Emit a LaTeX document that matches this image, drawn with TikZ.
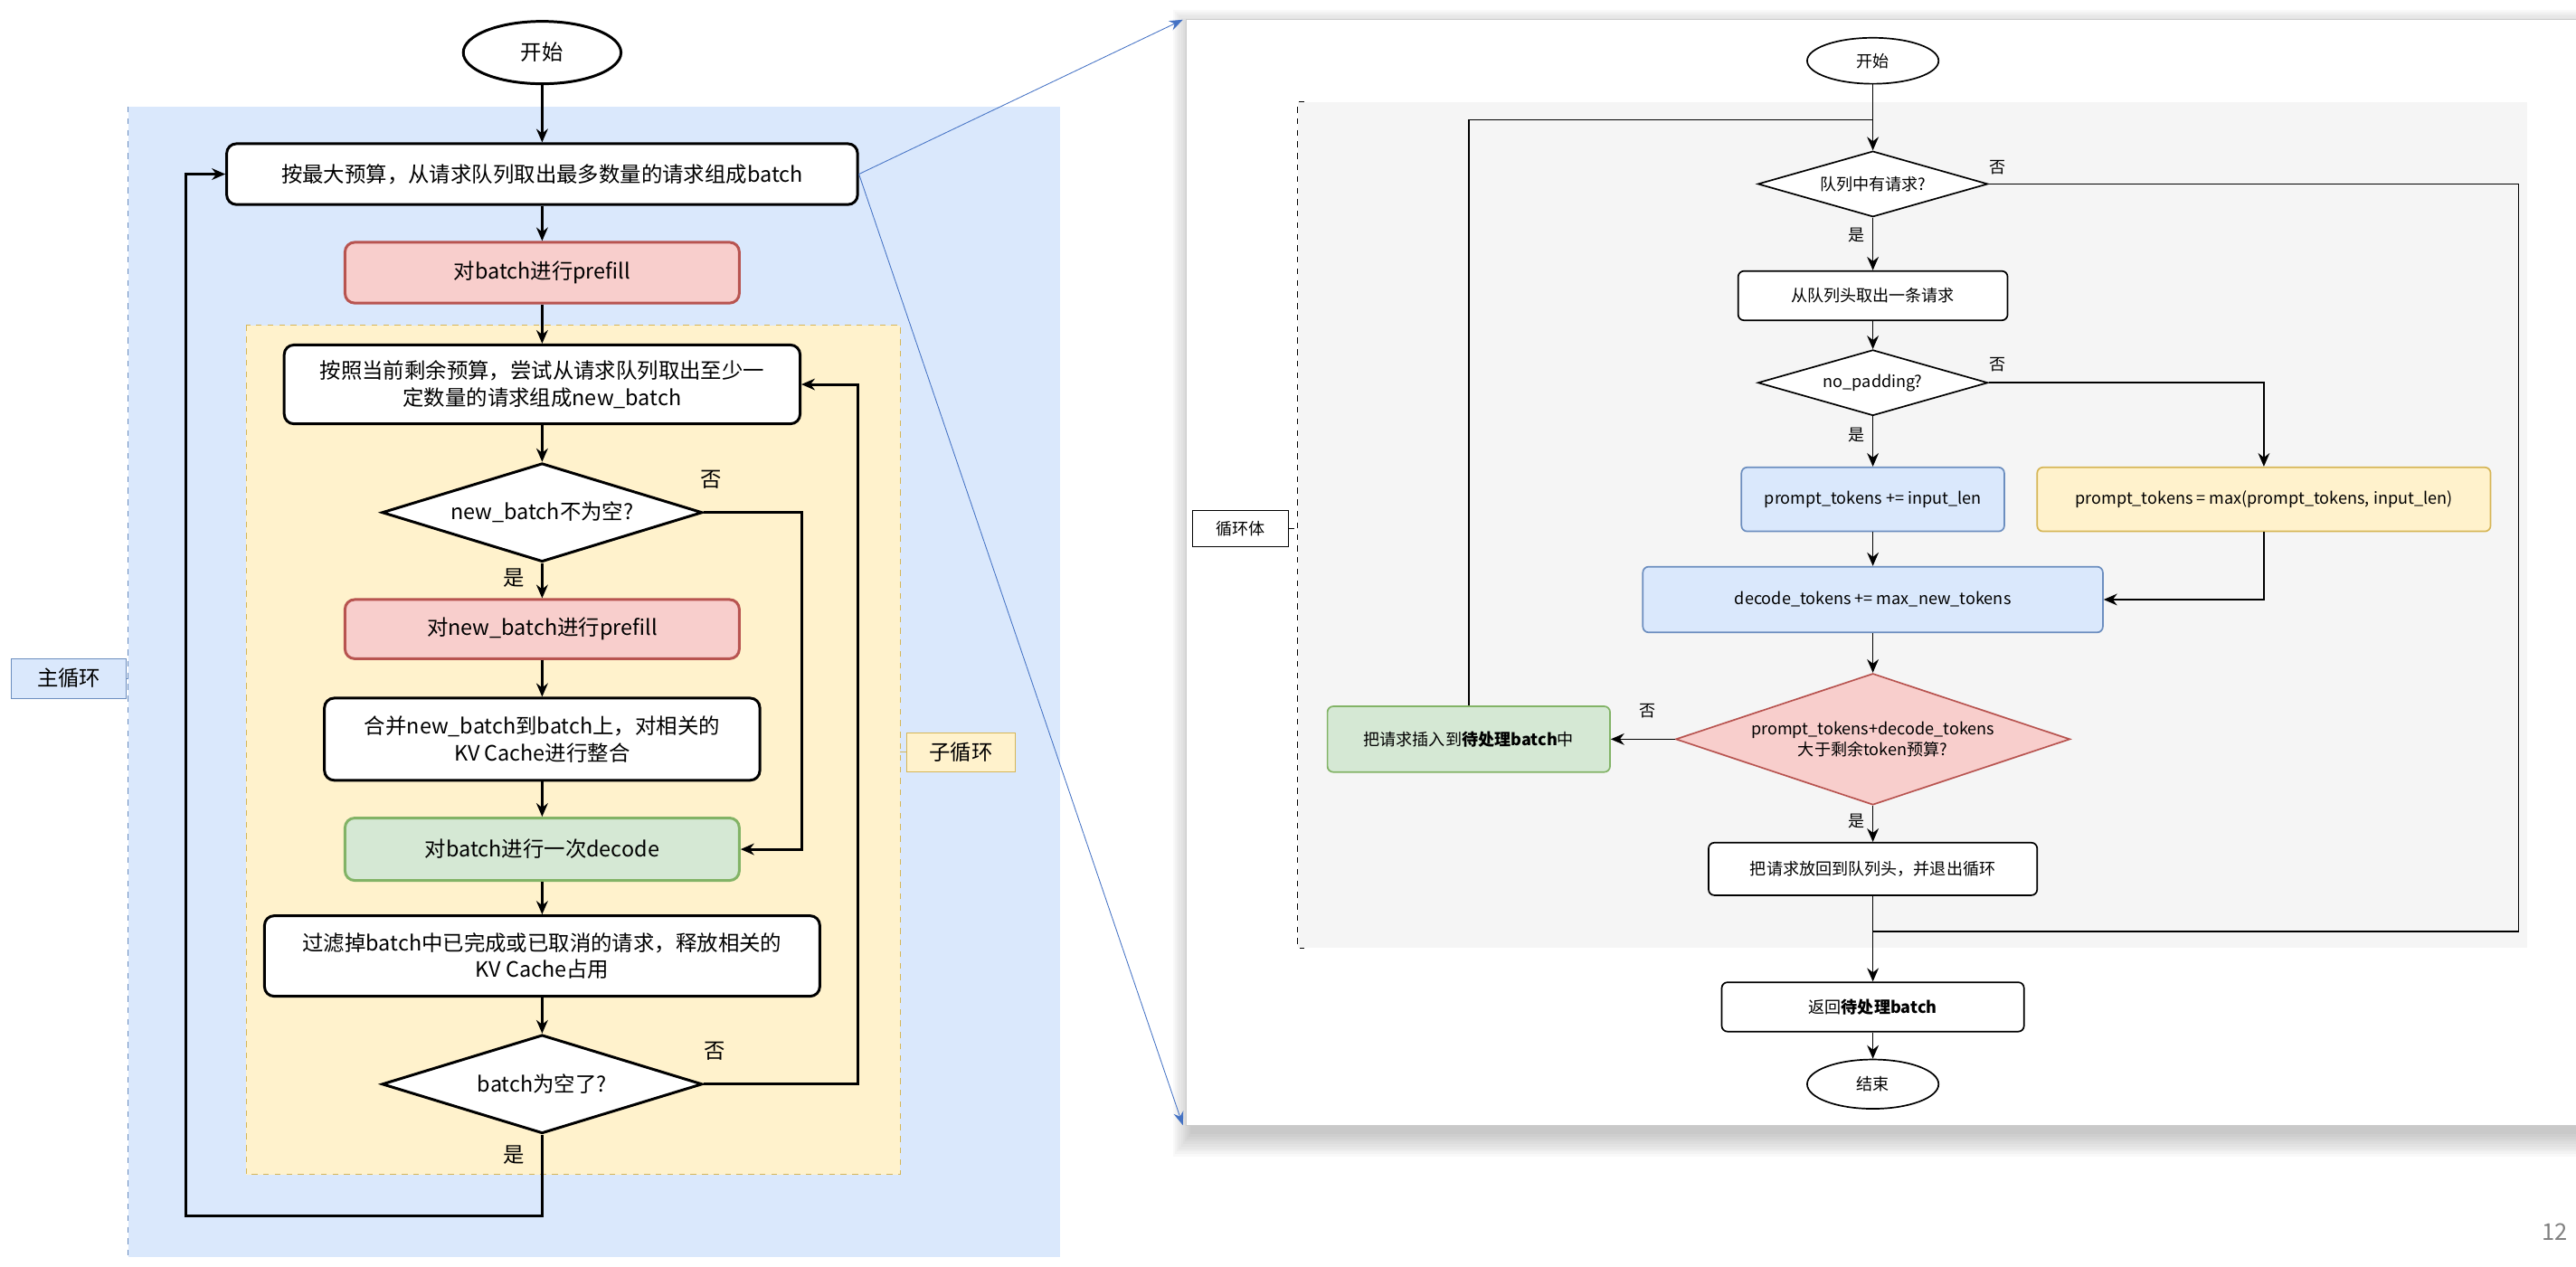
\documentclass[tikz,border=0pt]{standalone}
\usepackage{fontspec}
\setmainfont{Noto Sans CJK SC}
\usetikzlibrary{shapes.geometric,arrows.meta}
\definecolor{bfill}{HTML}{DAE8FC}\definecolor{bline}{HTML}{6C8EBF}
\definecolor{rfill}{HTML}{F8CECC}\definecolor{rline}{HTML}{B85450}
\definecolor{gfill}{HTML}{D5E8D4}\definecolor{gline}{HTML}{82B366}
\definecolor{yfill}{HTML}{FFF2CC}\definecolor{yline}{HTML}{D6B656}
\definecolor{arrblue}{HTML}{4472C4}
\begin{document}
\begin{tikzpicture}[x=0.03cm,y=-0.03cm,
  L/.style={font=\fontsize{11}{14}\selectfont},
  R/.style={font=\fontsize{8.5}{11}\selectfont},
  box/.style={draw,rounded corners=5pt,fill=white,align=center,inner sep=0pt},
  dia/.style={draw,diamond,aspect=3.2,fill=white,align=center,inner sep=1pt},
  ell/.style={draw,ellipse,fill=white,inner sep=0pt},
  lw/.style={line width=1.4pt},
  rw/.style={line width=0.8pt},
  arr/.style={-{Stealth[length=7pt,width=6pt]}},
  lab/.style={inner sep=1pt}]
\useasboundingbox (0,0) rectangle (1568,771);
% ---------- left ----------
\fill[bfill] (78,65) rectangle (645,765);
\draw[bline,dashed] (78,65) -- (78,765);
\node[draw=bline,fill=bfill,L,minimum width=70*0.03cm,minimum height=24*0.03cm] (zl) at (42,413) {主循环};
\draw[bline,dashed] (zl.east) -- (78,413);
\fill[yfill] (150,198) rectangle (548,715);
\draw[yline,dashed] (150,198) rectangle (548,715);
\node[draw=yline,fill=yfill,L,minimum width=66*0.03cm,minimum height=24*0.03cm] (zi) at (585,458) {子循环};
\draw[yline,dashed] (548,458) -- (zi.west);
\node[ell,L,lw,minimum width=96*0.03cm,minimum height=38*0.03cm] (s1) at (330,32) {开始};
\node[box,L,lw,minimum width=384*0.03cm,minimum height=37*0.03cm] (n1) at (330,106) {按最大预算，从请求队列取出最多数量的请求组成batch};
\node[box,L,lw,draw=rline,fill=rfill,minimum width=240*0.03cm,minimum height=37*0.03cm] (n2) at (330,166) {对batch进行prefill};
\node[box,L,lw,minimum width=314*0.03cm,minimum height=48*0.03cm] (n3) at (330,234) {按照当前剩余预算，尝试从请求队列取出至少一\\定数量的请求组成new\_batch};
\node[dia,L,lw,minimum width=195*0.03cm,minimum height=60*0.03cm] (d1) at (330,312) {new\_batch不为空?};
\node[box,L,lw,draw=rline,fill=rfill,minimum width=240*0.03cm,minimum height=36*0.03cm] (n4) at (330,383) {对new\_batch进行prefill};
\node[box,L,lw,minimum width=265*0.03cm,minimum height=50*0.03cm] (n5) at (330,450) {合并new\_batch到batch上，对相关的\\KV Cache进行整合};
\node[box,L,lw,draw=gline,fill=gfill,minimum width=240*0.03cm,minimum height=38*0.03cm] (n6) at (330,517) {对batch进行一次decode};
\node[box,L,lw,minimum width=338*0.03cm,minimum height=49*0.03cm] (n7) at (330,582) {过滤掉batch中已完成或已取消的请求，释放相关的\\KV Cache占用};
\node[dia,L,lw,minimum width=195*0.03cm,minimum height=60*0.03cm] (d2) at (330,660) {batch为空了?};
\draw[lw,arr] (s1) -- (n1);
\draw[lw,arr] (n1) -- (n2);
\draw[lw,arr] (n2) -- (n3);
\draw[lw,arr] (n3) -- (d1);
\draw[lw,arr] (d1) -- (n4);
\draw[lw,arr] (n4) -- (n5);
\draw[lw,arr] (n5) -- (n6);
\draw[lw,arr] (n6) -- (n7);
\draw[lw,arr] (n7) -- (d2);
\draw[lw,arr] (d1.east) -- (488,312) |- (n6.east);
\draw[lw,arr] (d2.east) -- (522,660) |- (n3.east);
\draw[lw,arr] (d2.south) -- (330,740) -- (113,740) |- (n1.west);
\node[L,lab] at (433,292) {否};
\node[L,lab] at (313,352) {是};
\node[L,lab] at (435,640) {否};
\node[L,lab] at (313,703) {是};
% ---------- right panel ----------
\foreach \i in {1,...,10}{
  \fill[black,opacity=0.025] (722-\i*1.2+4,12-\i*1.2+6) rectangle (1568+\i*1.2,685+\i*1.5+4);
}
\fill[white] (722,12) rectangle (1568,685);
\draw[gray!40,line width=0.3pt] (722,12) rectangle (1568,685);
% ---------- connectors to panel ----------
\coordinate (pt) at (720,12);
\coordinate (pb) at (720,685);
\draw[arrblue,-{Stealth[length=7pt]}] (n1.east) -- (pt);
\draw[arrblue,-{Stealth[length=7pt]}] (n1.east) -- (pb);
\fill[gray!8] (790,62) rectangle (1538,577);
\draw[dashed] (794,62) -- (790,62) -- (790,577) -- (794,577);
\node[draw,fill=white,R,minimum width=58*0.03cm,minimum height=22*0.03cm] (lb) at (755,322) {循环体};
\draw[dashed] (lb.east) -- (790,322);
\node[ell,R,rw,minimum width=80*0.03cm,minimum height=28*0.03cm] (s2) at (1140,37) {开始};
\node[dia,R,rw,minimum width=140*0.03cm,minimum height=40*0.03cm] (q1) at (1140,112) {队列中有请求?};
\node[box,R,rw,rounded corners=3pt,minimum width=164*0.03cm,minimum height=30*0.03cm] (r1) at (1140,180) {从队列头取出一条请求};
\node[dia,R,rw,minimum width=140*0.03cm,minimum height=40*0.03cm] (q2) at (1140,233) {no\_padding?};
\node[box,R,rw,rounded corners=3pt,draw=bline,fill=bfill,minimum width=160*0.03cm,minimum height=39*0.03cm] (r2) at (1140,304) {prompt\_tokens += input\_len};
\node[box,R,rw,rounded corners=3pt,draw=yline,fill=yfill,minimum width=276*0.03cm,minimum height=39*0.03cm] (r3) at (1378,304) {prompt\_tokens = max(prompt\_tokens, input\_len)};
\node[box,R,rw,rounded corners=3pt,draw=bline,fill=bfill,minimum width=280*0.03cm,minimum height=40*0.03cm] (r4) at (1140,365) {decode\_tokens += max\_new\_tokens};
\node[dia,R,rw,draw=rline,fill=rfill,aspect=3,minimum width=240*0.03cm,minimum height=80*0.03cm] (q3) at (1140,450) {prompt\_tokens+decode\_tokens\\大于剩余token预算?};
\node[box,R,rw,rounded corners=3pt,draw=gline,fill=gfill,minimum width=172*0.03cm,minimum height=40*0.03cm] (r5) at (894,450) {把请求插入到\textbf{待处理batch}中};
\node[box,R,rw,rounded corners=3pt,minimum width=200*0.03cm,minimum height=32*0.03cm] (r6) at (1140,529) {把请求放回到队列头，并退出循环};
\node[box,R,rw,rounded corners=3pt,minimum width=184*0.03cm,minimum height=30*0.03cm] (r7) at (1140,613) {返回\textbf{待处理batch}};
\node[ell,R,rw,minimum width=80*0.03cm,minimum height=30*0.03cm] (e2) at (1140,660) {结束};
\coordinate (jt) at (1140,73);
\coordinate (jb) at (1140,567);
\draw[rw,arr] (s2) -- (q1);
\draw[rw] (r5.north) |- (jt);
\draw[rw,arr] (q1) -- (r1);
\draw[rw,arr] (r1) -- (q2);
\draw[rw,arr] (q2) -- (r2);
\draw[rw,arr] (q2.east) -| (r3.north);
\draw[rw,arr] (r2) -- (r4);
\draw[rw,arr] (r3.south) |- (r4.east);
\draw[rw,arr] (r4) -- (q3);
\draw[rw,arr] (q3) -- (r5);
\draw[rw,arr] (q3) -- (r6);
\draw[rw,arr] (r6) -- (r7);
\draw[rw] (q1.east) -- (1533,112) |- (jb);
\draw[rw,arr] (r7) -- (e2);
\node[R,lab] at (1216,102) {否};
\node[R,lab] at (1130,143) {是};
\node[R,lab] at (1216,222) {否};
\node[R,lab] at (1130,265) {是};
\node[R,lab] at (1003,433) {否};
\node[R,lab] at (1130,500) {是};
\node[font=\fontsize{12}{14}\selectfont,text=gray] at (1555,750) {12};
\end{tikzpicture}
\end{document}
